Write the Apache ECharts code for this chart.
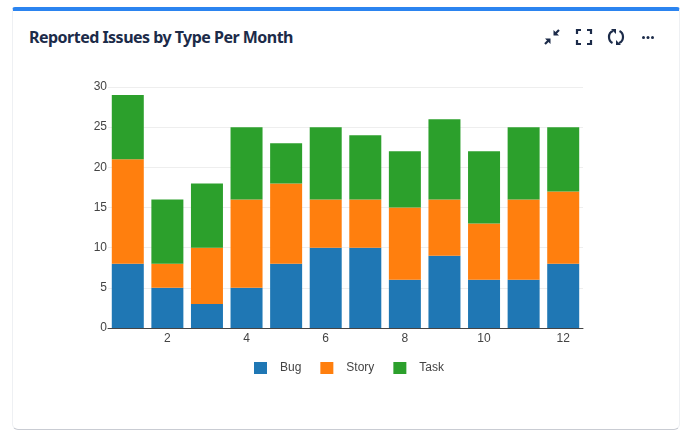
<!DOCTYPE html>
<html><head><meta charset="utf-8">
<style>
html,body{margin:0;padding:0;background:#fff;width:689px;height:435px;overflow:hidden}
#card{position:absolute;left:12px;top:7px;width:668px;height:423px;background:#fff;border:1px solid #eef0f3;border-top:4px solid #2b84f0;border-bottom:1px solid #c9ccd3;border-radius:3px 3px 6px 6px;box-sizing:border-box}
#title{position:absolute;left:29px;top:26px;font:700 16px/22px "Noto Sans",sans-serif;letter-spacing:-.52px;color:#1c2b49;white-space:nowrap}
#chart{position:absolute;left:0;top:0;width:689px;height:435px}
svg.ic{position:absolute;top:27px;width:20px;height:20px;fill:none;stroke:#1c2b49;stroke-width:2.200}
</style></head><body>
<div id="card"></div>
<div id="title">Reported Issues by Type Per Month</div>
<div id="chart"></div>
<svg class="ic" style="left:542px" viewBox="0 0 20 20"><path d="M3 17l4-4M13 7l4-4"/><path d="M3 11.500h5.500V17zM17 8.500h-5.500V3z" fill="#1c2b49" stroke="none"/></svg>
<svg class="ic" style="left:574px" viewBox="0 0 20 20"><path d="M3 7V3h4M13 3h4v4M17 13v4h-4M7 17H3v-4"/></svg>
<svg class="ic" style="left:606px" viewBox="0 0 20 20"><path d="M7 4C4 5 3 8 3 10c0 3 1.500 5 3.500 6M13 16c3-1 4-4 4-6 0-3-1.500-5-3.500-6"/><path d="M5 2h5v5zM15 18h-5v-5z" fill="#1c2b49" stroke="none"/></svg>
<svg class="ic" style="left:638px" viewBox="0 0 20 20"><g fill="#1c2b49" stroke="none"><circle cx="5.500" cy="10.500" r="1.500"/><circle cx="10" cy="10.500" r="1.500"/><circle cx="14.500" cy="10.500" r="1.500"/></g></svg>
<script src="https://cdn.jsdelivr.net/npm/echarts@6/dist/echarts.min.js"></script>
<script>
const months = ["1","2","3","4","5","6","7","8","9","10","11","12"];
const bug   = [8,5,3,5,8,10,10,6,9,6,6,8];
const story = [13,3,7,11,10,6,6,9,7,7,10,9];
const task  = [8,8,8,9,5,9,8,7,10,9,9,8];
const chart = echarts.init(document.getElementById('chart'), null, {renderer:'canvas'});
const mk = (name,data,color)=>({name,type:'bar',stack:'t',data,barWidth:32,itemStyle:{color},emphasis:{disabled:true}});
chart.setOption({
  animation:false,
  textStyle:{fontFamily:'"Liberation Sans",Arial,sans-serif'},
  grid:{left:108,top:87,width:475,height:241,containLabel:false},
  legend:{top:357,left:249,itemWidth:13,itemHeight:12,itemGap:19,icon:'rect',
    data:['Bug','Story','Task'],
    textStyle:{color:'#444',fontSize:12,padding:[0,0,0,8]}},
  xAxis:{type:'category',data:months,axisTick:{show:false},
    axisLine:{lineStyle:{color:'#444',width:1}},
    axisLabel:{interval:(i)=>i%2===1,color:'#444',fontSize:12,margin:5}},
  yAxis:{type:'value',min:0,max:30,interval:5,axisLine:{show:false},axisTick:{show:false},
    axisLabel:{color:'#444',fontSize:12,margin:1,lineHeight:14,padding:[2,0,0,0]},
    splitLine:{lineStyle:{color:'#eeeeee',width:1}}},
  series:[mk('Bug',bug,'#1f77b4'),mk('Story',story,'#ff7f0e'),mk('Task',task,'#2ca02c')]
});
</script>
</body></html>
